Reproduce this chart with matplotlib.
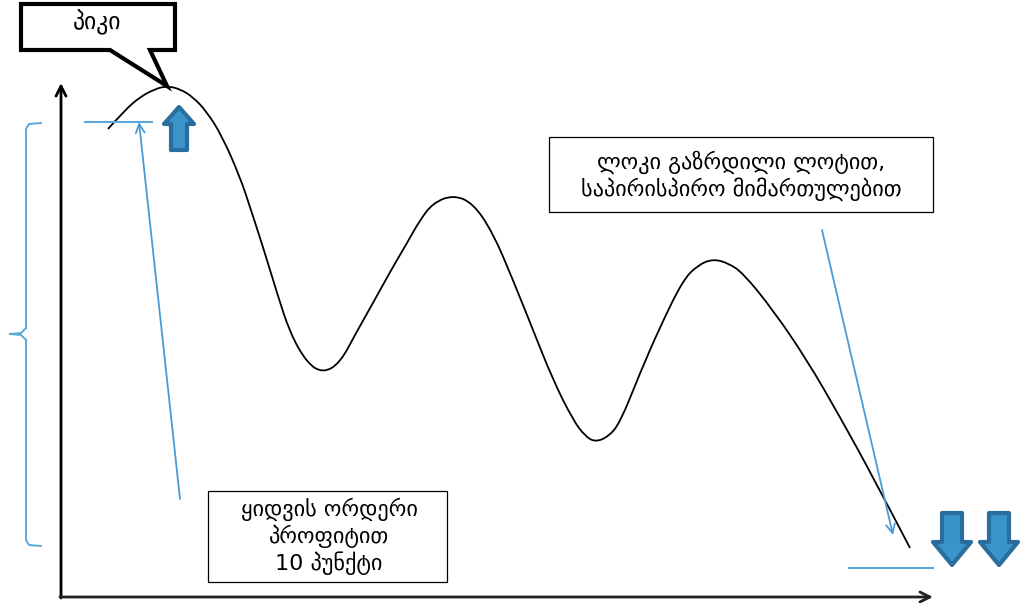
import matplotlib.pyplot as plt
from matplotlib.patches import Polygon, Rectangle, PathPatch
from matplotlib.path import Path

plt.rcParams['font.family'] = ['DejaVu Sans']

# price curve (pixel coords, y down)
curve_x = [108, 125, 140, 155, 167, 180, 193, 207, 222, 240, 250, 263, 277, 290, 307,
           323, 340, 356, 373, 390, 407, 420, 433, 453, 473, 493, 513, 533, 553,
           573, 585, 595, 608, 620, 640, 660, 683, 698, 713, 728, 743, 773, 807,
           840, 873, 910]
curve_y = [129, 110, 97, 89, 86, 89, 97, 112, 136, 177, 207, 247, 293, 333, 363,
           373, 363, 333, 303, 272, 243, 220, 203, 195, 203, 233, 280, 330, 380,
           420, 436, 442, 437, 423, 373, 327, 280, 265, 259, 263, 273, 310, 360,
           417, 477, 548]

peak_label = "პიკი"
lock_label = "ლოკი გაზრდილი ლოტით,\nსაპირისპირო მიმართულებით"
buy_label = "ყიდვის ორდერი\nპროფიტით\n10 პუნქტი"

up_arrows = [(179, 107)]            # tip positions
down_arrows = [(952, 565), (999, 565)]

blue = '#4a9ad4'
light_blue = '#5ba8d8'
fill_blue = '#3a93c9'
edge_blue = '#2a6e9f'

fig = plt.figure(figsize=(10.33, 6.03), dpi=100)
ax = fig.add_axes([0, 0, 1, 1])
ax.set_xlim(0, 1033)
ax.set_ylim(603, 0)
ax.axis('off')

# axes arrows
ax.annotate('', xy=(61, 83), xytext=(61, 598),
            arrowprops=dict(arrowstyle='->', color='black', lw=2,
                            mutation_scale=18, shrinkA=0, shrinkB=0))
ax.annotate('', xy=(933, 597), xytext=(60, 597),
            arrowprops=dict(arrowstyle='->', color='#222222', lw=2,
                            mutation_scale=18, shrinkA=0, shrinkB=0))

# smooth curve: traced points used as quadratic bezier controls
pts = list(zip(curve_x, curve_y))
verts = [pts[0]]
codes = [Path.MOVETO]
for i in range(1, len(pts) - 1):
    nxt = pts[i + 1] if i == len(pts) - 2 else ((pts[i][0] + pts[i + 1][0]) / 2,
                                                (pts[i][1] + pts[i + 1][1]) / 2)
    verts += [pts[i], nxt]
    codes += [Path.CURVE3, Path.CURVE3]
ax.add_patch(PathPatch(Path(verts, codes), facecolor='none', edgecolor='black', lw=1.3))

# level lines
ax.plot([85, 152], [122, 122], color=light_blue, lw=1.5)
ax.plot([849, 933], [568, 568], color=light_blue, lw=1.5)

# pointers
ax.annotate('', xy=(139, 122), xytext=(180, 499),
            arrowprops=dict(arrowstyle='->', color=blue, lw=1.3,
                            mutation_scale=16, shrinkA=0, shrinkB=0))
ax.annotate('', xy=(893, 535), xytext=(822, 230),
            arrowprops=dict(arrowstyle='->', color=blue, lw=1.3,
                            mutation_scale=16, shrinkA=0, shrinkB=0))

# curly brace on the left
bx, by0, by1, bmid = 26, 123, 546, 334
ax.plot([bx + 15, bx + 3, bx, bx], [by0, by0 + 1, by0 + 6, bmid - 6],
        color=light_blue, lw=1.4)
ax.plot([bx, bx - 5, bx - 16], [bmid - 6, bmid - 1, bmid], color=light_blue, lw=1.4)
ax.plot([bx - 16, bx - 5, bx], [bmid, bmid + 1, bmid + 6], color=light_blue, lw=1.4)
ax.plot([bx, bx, bx + 3, bx + 15], [bmid + 6, by1 - 6, by1 - 1, by1],
        color=light_blue, lw=1.4)


def block_arrow(tx, ty, direction, hw, sw, hl, total):
    # direction: -1 up (tip at top), +1 down (tip at bottom)
    s = -direction
    poly = [(tx, ty), (tx + hw, ty + s * hl), (tx + sw, ty + s * hl),
            (tx + sw, ty + s * total), (tx - sw, ty + s * total),
            (tx - sw, ty + s * hl), (tx - hw, ty + s * hl)]
    ax.add_patch(Polygon(poly, closed=True, facecolor=fill_blue,
                         edgecolor=edge_blue, lw=3, joinstyle='round'))


for tx, ty in up_arrows:
    block_arrow(tx, ty, -1, 15, 8, 17, 43)
for tx, ty in down_arrows:
    block_arrow(tx, ty, 1, 19, 10, 23, 52)

# peak callout
callout = [(21, 4), (175, 4), (175, 50), (150, 50), (167, 86), (110, 50), (21, 50)]
ax.add_patch(Polygon(callout, closed=True, facecolor='white', edgecolor='black',
                     lw=3, joinstyle='miter'))
ax.text(97, 22, peak_label, ha='center', va='center', fontsize=17)

# text boxes
ax.add_patch(Rectangle((549, 137), 384, 75, facecolor='white', edgecolor='black', lw=0.9))
ax.text(741, 176, lock_label, ha='center', va='center', fontsize=16,
        linespacing=1.2)
ax.add_patch(Rectangle((208, 491), 239, 91, facecolor='white', edgecolor='black', lw=0.9))
ax.text(329, 536, buy_label, ha='center', va='center', fontsize=16,
        linespacing=1.2)

fig.savefig('out.png', dpi=100)
